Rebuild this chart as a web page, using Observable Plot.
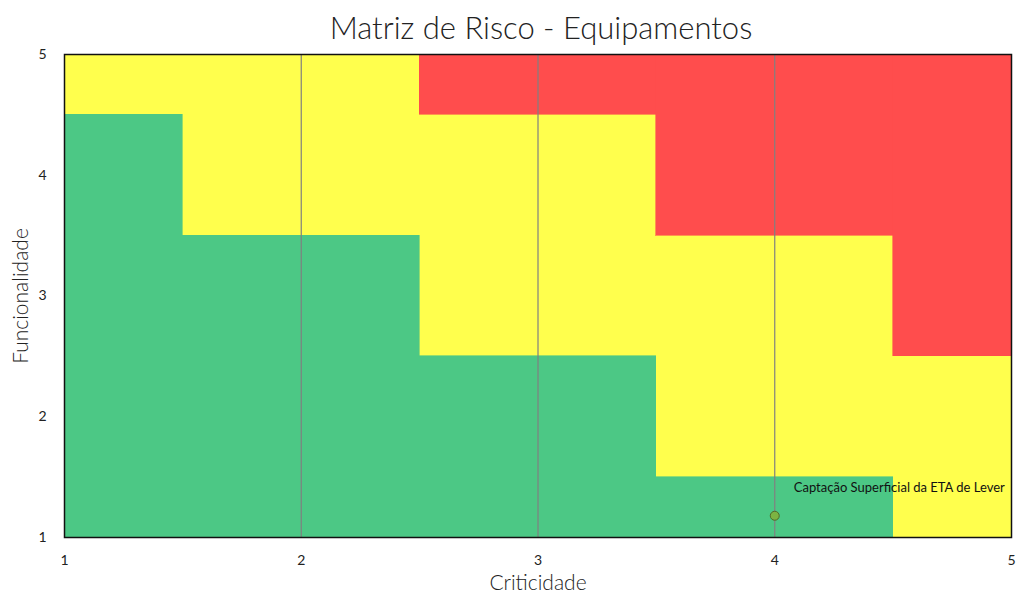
<!DOCTYPE html>
<html>
<head>
<meta charset="utf-8">
<script src="https://cdn.jsdelivr.net/npm/d3@7"></script>
<script src="https://cdn.jsdelivr.net/npm/@observablehq/plot@0.6"></script>
<style>
  html, body { margin: 0; padding: 0; background: #fff; }
  #title { box-sizing: border-box; height: 40px; padding-top: 7px; line-height: 40px; overflow: visible; text-align: center; font-family: Lato, "Open Sans", sans-serif; font-weight: 300; font-size: 31px; color: #222; padding-left: 52px; white-space: nowrap; }
  #chart svg { display: block; }
</style>
</head>
<body>
<div id="title">Matriz de Risco - Equipamentos</div>
<div id="chart"></div>
<script>
// Column bands along Criticidade
const colStart = [1, 1.5, 2.5, 3.5, 4.5];
const colEnd = [1.5, 2.5, 3.5, 4.5, 5];
// Upper limit of green zone per column (Funcionalidade)
const greenTop = [4.5, 3.5, 2.5, 1.5, 1];
// Lower limit of red zone per column
const redBottom = [5, 5, 4.5, 3.5, 2.5];
const ticks = [1, 2, 3, 4, 5];
const gridX = [2, 3, 4];
// Equipment points
const equipNames = ["Captação Superficial da ETA de Lever"];
const equipCrit = [4];
const equipFunc = [1.18];

const cols = colStart.map((s, i) => ({x1: s, x2: colEnd[i], g: greenTop[i], r: redBottom[i]}));
const equip = equipNames.map((n, i) => ({name: n, x: equipCrit[i], y: equipFunc[i]}));

const chart = Plot.plot({
  width: 1030,
  height: 554,
  marginTop: 14,
  marginLeft: 64,
  marginRight: 19,
  marginBottom: 57,
  style: {fontFamily: "Lato, 'Open Sans', sans-serif", fontSize: "14px", color: "#222", background: "transparent"},
  x: {domain: [1, 5], ticks: ticks, tickFormat: "d", tickSize: 0, tickPadding: 18, label: "Criticidade", labelAnchor: "center", labelArrow: "none", labelOffset: 52},
  y: {domain: [1, 5], ticks: ticks, tickFormat: "d", tickSize: 0, tickPadding: 18, label: "Funcionalidade", labelAnchor: "center", labelArrow: "none", labelOffset: 51},
  marks: [
    Plot.rect([{x1: 1, x2: 5, y1: 1, y2: 5}], {x1: "x1", x2: "x2", y1: "y1", y2: "y2", fill: "#ffff4d", shapeRendering: "crispEdges"}),
    Plot.rect(cols.filter(d => d.g > 1), {x1: "x1", x2: "x2", y1: 1, y2: "g", fill: "#4cc885", stroke: "#4cc885", strokeWidth: 0.6, shapeRendering: "crispEdges"}),
    Plot.rect(cols.filter(d => d.r < 5), {x1: "x1", x2: "x2", y1: "r", y2: 4.99, fill: "#ff4d4d", stroke: "#ff4d4d", strokeWidth: 0.6, shapeRendering: "crispEdges"}),
    Plot.ruleX(gridX, {stroke: "#808080", strokeWidth: 1.2}),
    Plot.dot(equip, {x: "x", y: "y", r: 4.5, fill: "#7cb342", stroke: "#4f6b2a", strokeWidth: 1}),
    Plot.text(equip, {x: "x", y: "y", text: "name", dx: 19, dy: -28, textAnchor: "start", fontSize: 13, fill: "#111"}),
    Plot.frame({stroke: "#111", strokeWidth: 1.5})
  ]
});
// Style axis labels larger
chart.querySelectorAll('[aria-label="x-axis label"] text, [aria-label="y-axis label"] text').forEach(t => {
  t.setAttribute("font-size", "21");
  t.setAttribute("font-weight", "300");
});
document.getElementById("chart").appendChild(chart);
</script>
</body>
</html>
